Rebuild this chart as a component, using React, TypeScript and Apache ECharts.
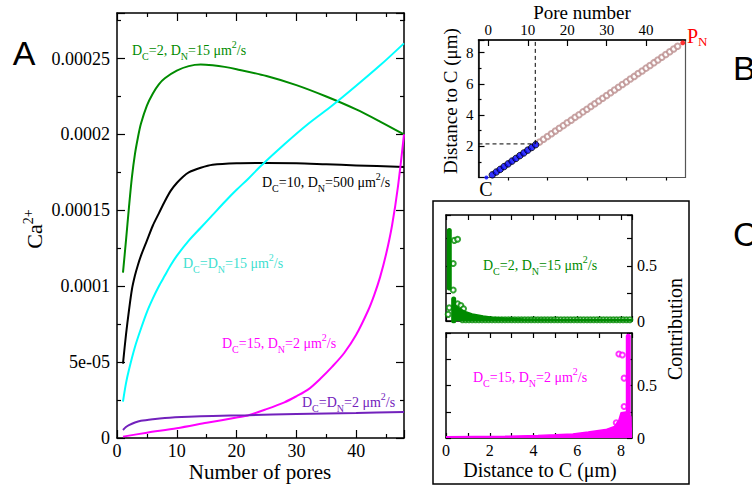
import React, { useEffect, useRef } from "react";
import * as echarts from "echarts";

const SERIF = "Liberation Serif";
const SANS = "Liberation Sans";

// ---------- Panel A : Ca2+ vs number of pores ----------
const greenX = [1, 1.5, 2, 2.5, 3, 3.5, 4, 5, 6, 7, 8, 10, 12, 14, 16, 18, 20, 25, 30, 35, 40, 44, 48];
const greenY = [1.09e-4, 1.3e-4, 1.52e-4, 1.72e-4, 1.87e-4, 1.98e-4, 2.07e-4, 2.19e-4, 2.27e-4, 2.33e-4, 2.37e-4, 2.42e-4, 2.45e-4, 2.46e-4, 2.455e-4, 2.445e-4, 2.43e-4, 2.385e-4, 2.325e-4, 2.25e-4, 2.165e-4, 2.085e-4, 2.0e-4];
const blackX = [1, 1.5, 2, 2.5, 3, 3.5, 4, 5, 6, 7, 8, 9, 10, 11, 12, 14, 16, 20, 25, 30, 35, 40, 48];
const blackY = [4.9e-5, 6.8e-5, 8.4e-5, 9.8e-5, 1.07e-4, 1.14e-4, 1.2e-4, 1.3e-4, 1.4e-4, 1.48e-4, 1.56e-4, 1.63e-4, 1.68e-4, 1.72e-4, 1.75e-4, 1.78e-4, 1.8e-4, 1.81e-4, 1.812e-4, 1.81e-4, 1.803e-4, 1.796e-4, 1.785e-4];
const cyanX = [1, 1.5, 2, 3, 4, 5, 6, 7, 8, 9, 10, 12, 14, 16, 18, 20, 22, 24, 28, 32, 36, 40, 44, 48];
const cyanY = [2.4e-5, 3.6e-5, 4.5e-5, 6.0e-5, 7.2e-5, 8.3e-5, 9.2e-5, 1.0e-4, 1.07e-4, 1.14e-4, 1.2e-4, 1.3e-4, 1.385e-4, 1.47e-4, 1.555e-4, 1.635e-4, 1.71e-4, 1.79e-4, 1.935e-4, 2.07e-4, 2.19e-4, 2.32e-4, 2.455e-4, 2.6e-4];
const magX = [1, 5, 10, 15, 20, 22, 25, 28, 30, 32, 34, 36, 38, 40, 42, 43, 44, 45, 46, 47, 48];
const magY = [0.9e-6, 3.5e-6, 6.4e-6, 1.0e-5, 1.35e-5, 1.5e-5, 1.9e-5, 2.35e-5, 2.75e-5, 3.2e-5, 3.9e-5, 4.7e-5, 5.6e-5, 6.8e-5, 8.4e-5, 9.4e-5, 1.06e-4, 1.21e-4, 1.4e-4, 1.66e-4, 2.0e-4];
const violetX = [1, 1.5, 2, 3, 4, 6, 8, 12, 16, 22, 30, 40, 48];
const violetY = [5.3e-6, 7.2e-6, 8.5e-6, 1.02e-5, 1.13e-5, 1.24e-5, 1.32e-5, 1.4e-5, 1.45e-5, 1.5e-5, 1.58e-5, 1.65e-5, 1.72e-5];
const yTickLabelsA = ["0", "5e-05", "0.0001", "0.00015", "0.0002", "0.00025"];

// ---------- Panel B : distance to C vs pore number ----------
const bluePores = [1, 2, 3, 4, 5, 6, 7, 8, 9, 10, 11, 12];
const blueDist = [0.17, 0.35, 0.52, 0.7, 0.87, 1.05, 1.22, 1.4, 1.57, 1.75, 1.92, 2.1];
const pinkPores = [13, 14, 15, 16, 17, 18, 19, 20, 21, 22, 23, 24, 25, 26, 27, 28, 29, 30, 31, 32, 33, 34, 35, 36, 37, 38, 39, 40, 41, 42, 43, 44, 45, 46, 47, 48];
const pinkDist = [2.27, 2.45, 2.62, 2.8, 2.97, 3.15, 3.32, 3.5, 3.67, 3.85, 4.02, 4.2, 4.37, 4.55, 4.72, 4.9, 5.07, 5.25, 5.42, 5.6, 5.77, 5.95, 6.12, 6.3, 6.47, 6.65, 6.82, 7.0, 7.17, 7.35, 7.52, 7.7, 7.87, 8.05, 8.22, 8.4];
const originPoint = [-0.5, 0];
const pnPoint = [49.3, 8.62];
const cutPore = 11.9;
const cutDist = 2.15;
const poreTicks = [0, 10, 20, 30, 40];
const poreMinorTicks = [5, 15, 25, 35, 45];

// ---------- Panel C : contributions ----------
const greenStackA = [[0.15, 0.3], [0.15, 0.82]];
const greenStackB = [[0.35, 0.0], [0.35, 0.2]];
const greenTail = [[0.3, 0.19], [0.45, 0.14], [0.6, 0.115], [0.9, 0.085], [1.2, 0.064], [1.7, 0.045], [2.1, 0.034], [2.7, 0.025], [3.5, 0.018], [5.0, 0.014], [8.5, 0.012]];
const greenOutliers = [[0.38, 0.73], [0.53, 0.74], [0.33, 0.52], [0.33, 0.28], [0.15, 0.12], [0.1, 0.06], [0.53, 0.155], [0.68, 0.14], [0.8, 0.11]];
const greenBaseX = [0.75, 0.9, 1.05, 1.2, 1.35, 1.5, 1.65, 1.8, 1.95, 2.1, 2.25, 2.4, 2.55, 2.7, 2.85, 3.0, 3.15, 3.3, 3.45, 3.6, 3.75, 3.9, 4.05, 4.2, 4.35, 4.5, 4.65, 4.8, 4.95, 5.1, 5.25, 5.4, 5.55, 5.7, 5.85, 6.0, 6.15, 6.3, 6.45, 6.6, 6.75, 6.9, 7.05, 7.2, 7.35, 7.5, 7.65, 7.8, 7.95, 8.1, 8.25, 8.4];
const greenBaseY = 0.012;
const magTail = [[0.0, 0.012], [2.7, 0.016], [4.2, 0.025], [5.0, 0.031], [5.8, 0.038], [6.5, 0.057], [7.3, 0.08], [7.7, 0.11], [7.9, 0.17], [8.0, 0.24], [8.3, 0.25], [8.45, 0.2], [8.47, 0.0]];
const magStack = [[8.33, 0.22], [8.33, 0.97]];
const magOutliers = [[7.9, 0.8], [8.06, 0.79], [8.14, 0.57], [8.14, 0.3], [7.78, 0.145], [8.34, 0.08]];

const GREEN = "#008b00";
const CYAN = "#00ffff";
const MAGENTA = "#ff00ff";
const VIOLET = "#7221bc";
const TURQ = "#40e0d0";
const ROSY = "#bc8f8f";

const pts = (xs: number[], ys: number[]) => xs.map((x, i) => [x, ys[i]]);

const axisLine = (color = "#000", width = 1.5) => ({ show: true, onZero: false, lineStyle: { color, width } });

function vAxis(o: any) {
  return {
    type: "value",
    splitLine: { show: false },
    axisLine: axisLine(),
    axisTick: { show: true, inside: true, length: 5, lineStyle: { color: "#000", width: 1.2 } },
    axisLabel: { show: false },
    ...o,
  };
}

const richFor = (c: string) => ({
  n: { fontSize: 14, fontFamily: SERIF, fill: c, lineHeight: 22 },
  s: { fontSize: 10, fontFamily: SERIF, fill: c, verticalAlign: "bottom", lineHeight: 10 },
  p: { fontSize: 10, fontFamily: SERIF, fill: c, verticalAlign: "top", lineHeight: 10 },
});

const dLabel = (x: number, y: number, color: string, text: string) => ({
  type: "text",
  x,
  y,
  style: { text, rich: richFor(color), fill: color, align: "left", verticalAlign: "middle", fontFamily: SERIF, fontSize: 14 },
});

const plain = (x: number, y: number, text: string, size: number, extra: any = {}, rotation = 0) => ({
  type: "text",
  x,
  y,
  rotation,
  style: { text, fontSize: size, fontFamily: SERIF, fill: "#000", align: "center", verticalAlign: "middle", ...extra },
});

export default function App() {
  const ref = useRef<HTMLDivElement>(null);
  useEffect(() => {
    if (!ref.current) return;
    const chart = echarts.init(ref.current, null, { renderer: "svg" });
    const tickLabelA = { show: true, fontFamily: SERIF, fontSize: 18, color: "#000" };
    const option: any = {
      animation: false,
      backgroundColor: "#fff",
      textStyle: { fontFamily: SERIF },
      grid: [
        { left: 117, top: 13, width: 287, height: 425 },
        { left: 478.5, top: 40, width: 207, height: 137.5, show: true, borderColor: "#555", borderWidth: 1.2 },
        { left: 446, top: 215, width: 186, height: 106 },
        { left: 446, top: 333, width: 186, height: 105 },
      ],
      xAxis: [
        vAxis({
          gridIndex: 0, position: "bottom", min: 0, max: 48, interval: 10,
          axisTick: { show: true, inside: true, length: 8, lineStyle: { color: "#000", width: 1.2 } },
          minorTick: { show: true, splitNumber: 2, length: 4, lineStyle: { color: "#000", width: 1.2 } },
          axisLabel: { ...tickLabelA, margin: 4, showMaxLabel: false },
        }),
        vAxis({
          gridIndex: 0, position: "top", min: 0, max: 48, interval: 10,
          axisTick: { show: true, inside: true, length: 8, lineStyle: { color: "#000", width: 1.2 } },
          minorTick: { show: true, splitNumber: 2, length: 4, lineStyle: { color: "#000", width: 1.2 } },
        }),
        vAxis({
          gridIndex: 1, position: "top", min: -2.5, max: 50,
          axisTick: { show: true, inside: true, length: 6, customValues: poreTicks, lineStyle: { color: "#000", width: 1.2 } },
          axisLabel: { show: true, customValues: poreTicks, fontFamily: SERIF, fontSize: 15, color: "#000", margin: 3 },
        }),
        vAxis({
          gridIndex: 1, position: "top", min: -2.5, max: 50,
          axisLine: { show: false },
          axisTick: { show: true, inside: true, length: 3, customValues: poreMinorTicks, lineStyle: { color: "#000", width: 1.2 } },
        }),
        vAxis({ gridIndex: 2, position: "bottom", min: 0, max: 8.5, interval: 1 }),
        vAxis({ gridIndex: 2, position: "top", min: 0, max: 8.5, interval: 1 }),
        vAxis({
          gridIndex: 3, position: "bottom", min: 0, max: 8.5, interval: 1,
          axisLabel: {
            show: true, fontFamily: SERIF, fontSize: 16, color: "#000", margin: 4, showMaxLabel: false,
            formatter: (v: number) => (v % 2 === 0 ? String(v) : ""),
          },
        }),
        vAxis({ gridIndex: 3, position: "top", min: 0, max: 8.5, interval: 1 }),
      ],
      yAxis: [
        vAxis({
          gridIndex: 0, position: "left", min: 0, max: 0.00028, interval: 0.00005,
          axisTick: { show: true, inside: true, length: 8, lineStyle: { color: "#000", width: 1.2 } },
          minorTick: { show: true, splitNumber: 2, length: 4, lineStyle: { color: "#000", width: 1.2 } },
          axisLabel: { ...tickLabelA, margin: 7, formatter: (v: number) => yTickLabelsA[Math.round(v / 0.00005)] ?? "" },
        }),
        vAxis({
          gridIndex: 0, position: "right", min: 0, max: 0.00028, interval: 0.00005,
          axisTick: { show: true, inside: true, length: 8, lineStyle: { color: "#000", width: 1.2 } },
          minorTick: { show: true, splitNumber: 2, length: 4, lineStyle: { color: "#000", width: 1.2 } },
        }),
        vAxis({
          gridIndex: 1, position: "left", min: 0, max: 8.8, interval: 2,
          axisTick: { show: true, inside: true, length: 6, lineStyle: { color: "#000", width: 1.2 } },
          minorTick: { show: true, splitNumber: 2, length: 3, lineStyle: { color: "#000", width: 1.2 } },
          axisLabel: {
            show: true, fontFamily: SERIF, fontSize: 15, color: "#000", margin: 5, showMaxLabel: false,
            formatter: (v: number) => (v !== 0 && v % 2 === 0 ? String(v) : ""),
          },
        }),
        vAxis({ gridIndex: 2, position: "left", min: 0, max: 0.96, interval: 0.25 }),
        vAxis({
          gridIndex: 2, position: "right", min: 0, max: 0.96, interval: 0.25,
          axisLabel: { show: true, fontFamily: SERIF, fontSize: 16, color: "#000", margin: 5, formatter: (v: number) => (v === 0 ? "0" : v === 0.5 ? "0.5" : "") },
        }),
        vAxis({ gridIndex: 3, position: "left", min: 0, max: 1.0, interval: 0.25 }),
        vAxis({
          gridIndex: 3, position: "right", min: 0, max: 1.0, interval: 0.25,
          axisLabel: { show: true, fontFamily: SERIF, fontSize: 16, color: "#000", margin: 5, formatter: (v: number) => (v === 0 ? "0" : v === 0.5 ? "0.5" : "") },
        }),
      ],
      series: [
        // Panel A
        ...[
          [greenX, greenY, GREEN],
          [blackX, blackY, "#000"],
          [cyanX, cyanY, CYAN],
          [magX, magY, MAGENTA],
          [violetX, violetY, VIOLET],
        ].map(([xs, ys, c]: any) => ({
          type: "line", xAxisIndex: 0, yAxisIndex: 0, data: pts(xs, ys), showSymbol: false,
          smooth: 0.3, lineStyle: { color: c, width: 2 }, itemStyle: { color: c }, silent: true,
        })),
        // Panel B
        {
          type: "line", xAxisIndex: 2, yAxisIndex: 2, data: [[cutPore, cutDist], [cutPore, 8.8]], showSymbol: false,
          lineStyle: { color: "#000", width: 1, type: [4, 3] }, silent: true,
        },
        {
          type: "line", xAxisIndex: 2, yAxisIndex: 2, data: [[-2.5, cutDist], [cutPore, cutDist]], showSymbol: false,
          lineStyle: { color: "#000", width: 1, type: [4, 3] }, silent: true,
        },
        {
          type: "scatter", xAxisIndex: 2, yAxisIndex: 2, data: pts(pinkPores, pinkDist), symbol: "emptyCircle", symbolSize: 5.5,
          itemStyle: { color: ROSY, borderColor: ROSY, borderWidth: 1.2 }, silent: true,
        },
        {
          type: "scatter", xAxisIndex: 2, yAxisIndex: 2, data: pts(bluePores, blueDist), symbol: "circle", symbolSize: 6.5,
          itemStyle: { color: "#0000ff", borderColor: "#000", borderWidth: 1 }, silent: true,
        },
        {
          type: "scatter", xAxisIndex: 2, yAxisIndex: 2, data: [originPoint], symbol: "circle", symbolSize: 4, clip: false,
          itemStyle: { color: "#0000ff" }, silent: true,
        },
        {
          type: "scatter", xAxisIndex: 2, yAxisIndex: 2, data: [pnPoint], symbol: "circle", symbolSize: 5, clip: false,
          itemStyle: { color: "#ff0000" }, silent: true,
        },
        // Panel C top (green)
        {
          type: "line", xAxisIndex: 4, yAxisIndex: 3, data: greenTail, showSymbol: false,
          lineStyle: { color: GREEN, width: 1.5 }, areaStyle: { color: GREEN, opacity: 1 }, silent: true,
        },
        {
          type: "scatter", xAxisIndex: 4, yAxisIndex: 3, data: greenBaseX.map((x) => [x, greenBaseY]), symbol: "emptyCircle", symbolSize: 5,
          itemStyle: { color: GREEN, borderColor: GREEN, borderWidth: 1.3 }, silent: true,
        },
        ...[greenStackA, greenStackB].map((d) => ({
          type: "line", xAxisIndex: 4, yAxisIndex: 3, data: d, showSymbol: false,
          lineStyle: { color: GREEN, width: 5, cap: "round" }, silent: true,
        })),
        {
          type: "scatter", xAxisIndex: 4, yAxisIndex: 3, data: greenOutliers, symbol: "emptyCircle", symbolSize: 5,
          itemStyle: { color: GREEN, borderColor: GREEN, borderWidth: 1.2 }, silent: true,
        },
        // Panel C bottom (magenta)
        {
          type: "line", xAxisIndex: 6, yAxisIndex: 5, data: magTail, showSymbol: false,
          lineStyle: { color: MAGENTA, width: 1.5 }, areaStyle: { color: MAGENTA, opacity: 1 }, silent: true,
        },
        {
          type: "line", xAxisIndex: 6, yAxisIndex: 5, data: magStack, showSymbol: false,
          lineStyle: { color: MAGENTA, width: 5, cap: "round" }, silent: true,
        },
        {
          type: "scatter", xAxisIndex: 6, yAxisIndex: 5, data: magOutliers, symbol: "emptyCircle", symbolSize: 5,
          itemStyle: { color: MAGENTA, borderColor: MAGENTA, borderWidth: 1.2 }, silent: true,
        },
      ],
      graphic: [
        { type: "rect", shape: { x: 433, y: 201, width: 256, height: 283 }, style: { fill: "none", stroke: "#000", lineWidth: 1.5 }, silent: true },
        // panel letters
        plain(24, 53, "A", 34, { fontFamily: SANS }),
        plain(733, 68, "B", 34, { fontFamily: SANS, align: "left" }),
        plain(733, 234, "C", 34, { fontFamily: SANS, align: "left" }),
        // panel A
        {
          type: "text", x: 34, y: 229, rotation: Math.PI / 2,
          style: {
            text: "{n|Ca}{p|2+}", align: "center", verticalAlign: "middle", fill: "#000",
            rich: {
              n: { fontSize: 22, fontFamily: SERIF, fill: "#000", lineHeight: 26 },
              p: { fontSize: 14, fontFamily: SERIF, fill: "#000", verticalAlign: "top", lineHeight: 14 },
            },
          },
        },
        plain(260, 472, "Number of pores", 21),
        dLabel(132, 50, GREEN, "{n|D}{s|C}{n|=2, D}{s|N}{n|=15 μm}{p|2}{n|/s}"),
        dLabel(262, 182, "#000", "{n|D}{s|C}{n|=10, D}{s|N}{n|=500 μm}{p|2}{n|/s}"),
        dLabel(183, 263, TURQ, "{n|D}{s|C}{n|=D}{s|N}{n|=15 μm}{p|2}{n|/s}"),
        dLabel(222, 343, MAGENTA, "{n|D}{s|C}{n|=15, D}{s|N}{n|=2 μm}{p|2}{n|/s}"),
        dLabel(302, 402, VIOLET, "{n|D}{s|C}{n|=D}{s|N}{n|=2 μm}{p|2}{n|/s}"),
        // panel B
        plain(582, 12, "Pore number", 19),
        plain(450, 101, "Distance to C (μm)", 19, {}, Math.PI / 2),
        plain(486, 189, "C", 20),
        {
          type: "text", x: 687, y: 36,
          style: {
            text: "{a|P}{s|N}", align: "left", verticalAlign: "middle", fill: "#ff0000",
            rich: {
              a: { fontSize: 20, fontFamily: SERIF, fill: "#ff0000", lineHeight: 24 },
              s: { fontSize: 13, fontFamily: SERIF, fill: "#ff0000", verticalAlign: "bottom", lineHeight: 13 },
            },
          },
        },
        // panel C
        dLabel(483, 265, GREEN, "{n|D}{s|C}{n|=2, D}{s|N}{n|=15 μm}{p|2}{n|/s}"),
        dLabel(473, 377, MAGENTA, "{n|D}{s|C}{n|=15, D}{s|N}{n|=2 μm}{p|2}{n|/s}"),
        plain(675, 329, "Contribution", 20, {}, Math.PI / 2),
        plain(540, 470, "Distance to C (μm)", 20),
      ],
    };
    chart.setOption(option);
    return () => chart.dispose();
  }, []);
  return <div ref={ref} style={{ position: "absolute", left: 0, top: 0, width: 752, height: 488 }} />;
}
